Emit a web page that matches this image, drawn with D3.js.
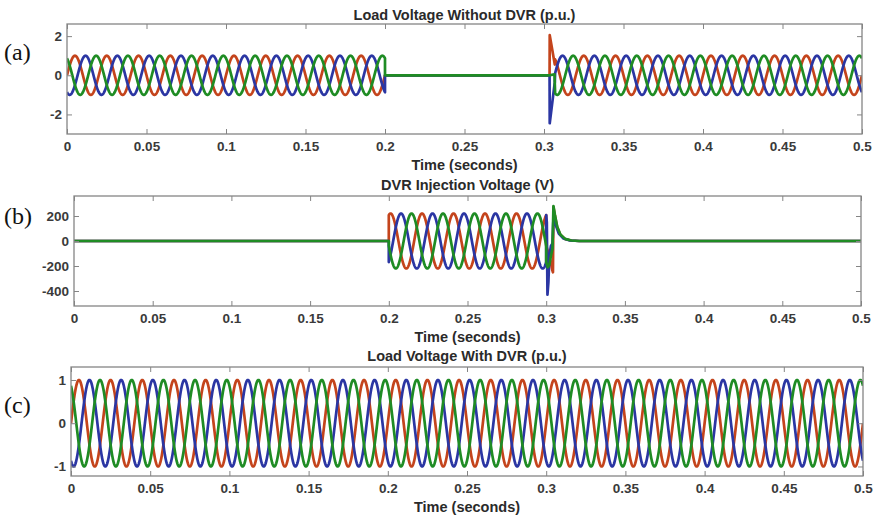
<!DOCTYPE html>
<html>
<head>
<meta charset="utf-8">
<script src="https://cdn.jsdelivr.net/npm/d3@7"></script>
<style>
  html, body { margin: 0; padding: 0; background: #fff; }
  svg { display: block; }
  .tick text { font-family: "Liberation Sans", Arial, sans-serif; font-weight: bold; font-size: 13.5px; fill: #3a3a3a; }
  .ttl { font-family: "Liberation Sans", Arial, sans-serif; font-weight: bold; font-size: 14.5px; fill: #2a2a2a; }
  .lbl { font-family: "Liberation Serif", "Times New Roman", serif; font-size: 24px; fill: #111; }
</style>
</head>
<body>
<svg id="chart" width="877" height="516"></svg>
<script>
// ---------------- data ----------------
const phaseNames = ["A", "B", "C"];              // drawn in this order (C on top)
const phaseAnglesDeg = [0, -120, 120];           // A, B, C
const systemFreqHz = 50;
const timeTicks = [0, 0.05, 0.1, 0.15, 0.2, 0.25, 0.3, 0.35, 0.4, 0.45, 0.5];

// (a) load voltage without DVR: [start, end, amplitude p.u.]
const loadNoDvrSegments = [[0, 0.2, 1], [0.2, 0.3035, 0], [0.307, 0.5, 1]];
const loadNoDvrTransient = [ // [t, value] per phase during voltage recovery
  [[0.3035, 0], [0.3036, 2.05], [0.3068, 0.55]],
  [[0.3035, 0], [0.3036, -2.45], [0.3068, -0.35]],
  [[0.3035, 0], [0.3066, 0.05]]
];
const loadNoDvrYTicks = [-2, 0, 2];

// (b) DVR injection voltage (V)
const injectionAmplitude = 220;
const injectionPhaseShiftDeg = 70;
const injectionSegments = [[0, 0.2, 0], [0.2, 0.3, injectionAmplitude], [0.321, 0.5, 0]];
const injectionTransient = [
  [[0.3, -38], [0.302, -120], [0.3038, -230], [0.3043, -250], [0.3046, 272], [0.3055, 205], [0.307, 110], [0.309, 50], [0.312, 16], [0.316, 4], [0.321, 0]],
  [[0.3, 207], [0.3004, 150], [0.3008, -430], [0.3014, -330], [0.302, -120], [0.303, -40], [0.304, -20], [0.3045, 150], [0.3052, 195], [0.306, 130], [0.308, 60], [0.311, 20], [0.315, 4], [0.321, 0]],
  [[0.3, -170], [0.301, -210], [0.302, -190], [0.303, -120], [0.304, -60], [0.3046, 280], [0.3055, 212], [0.307, 113], [0.309, 52], [0.312, 17], [0.316, 4], [0.321, 0]]
];
const injectionYTicks = [-400, -200, 0, 200];

// (c) load voltage with DVR
const loadDvrSegments = [[0, 0.5, 1]];
const loadDvrYTicks = [-1, 0, 1];

// ---------------- styles / layout ----------------
const phaseColors = ["#c4441c", "#2b36a3", "#1f8c24"];
const svg = d3.select("#chart");

const panels = [
  { letter: "(a)", title: "Load Voltage Without DVR (p.u.)", left: 67, right: 862, top: 24, bottom: 134,
    yDomain: [-3, 2.62], yTicks: loadNoDvrYTicks, segments: loadNoDvrSegments, shift: 0, transient: loadNoDvrTransient,
    letterY: 60, titleY: 19.5 },
  { letter: "(b)", title: "DVR Injection Voltage (V)", left: 74, right: 861, top: 196, bottom: 306,
    yDomain: [-520, 360], yTicks: injectionYTicks, segments: injectionSegments, shift: injectionPhaseShiftDeg, transient: injectionTransient,
    letterY: 224, titleY: 190 },
  { letter: "(c)", title: "Load Voltage With DVR (p.u.)", left: 71, right: 863, top: 367, bottom: 476,
    yDomain: [-1.22, 1.3], yTicks: loadDvrYTicks, segments: loadDvrSegments, shift: 0, transient: null,
    letterY: 413, titleY: 361 }
];

const fmt = d => String(+d.toFixed(2));
const dt = 0.0001;

function buildSeries(p, k) {
  const pts = [];
  const phi = (phaseAnglesDeg[k] + p.shift) * Math.PI / 180;
  const w = 2 * Math.PI * systemFreqHz;
  p.segments.forEach((seg, si) => {
    const [t0, t1, amp] = seg;
    const n = Math.round((t1 - t0) / dt);
    for (let i = 0; i <= n; i++) {
      const t = t0 + (t1 - t0) * i / n;
      pts.push([t, amp * Math.sin(w * t + phi)]);
    }
    if (p.transient && si === p.segments.length - 2) {
      p.transient[k].forEach(q => pts.push(q));
    }
  });
  pts.sort((a, b) => a[0] - b[0]);
  return pts;
}

panels.forEach((p, pi) => {
  const x = d3.scaleLinear().domain([0, 0.5]).range([p.left, p.right]);
  const y = d3.scaleLinear().domain(p.yDomain).range([p.bottom, p.top]);
  const g = svg.append("g");

  const clipId = "clip" + pi;
  svg.append("clipPath").attr("id", clipId).append("rect")
    .attr("x", p.left).attr("y", p.top).attr("width", p.right - p.left).attr("height", p.bottom - p.top);

  // waveforms
  const line = d3.line().x(d => x(d[0])).y(d => y(d[1]));
  const wg = g.append("g").attr("clip-path", `url(#${clipId})`);
  phaseNames.forEach((name, k) => {
    wg.append("path").datum(buildSeries(p, k))
      .attr("fill", "none").attr("stroke", phaseColors[k])
      .attr("stroke-width", 2.7).attr("stroke-linejoin", "round")
      .attr("d", line);
  });

  // axes
  const axColor = "#858585";
  const xb = g.append("g").attr("transform", `translate(0,${p.bottom})`)
    .call(d3.axisBottom(x).tickValues(timeTicks).tickFormat(fmt).tickSizeInner(-5).tickSizeOuter(0).tickPadding(8));
  const xt = g.append("g").attr("transform", `translate(0,${p.top})`)
    .call(d3.axisTop(x).tickValues(timeTicks).tickFormat("").tickSizeInner(-5).tickSizeOuter(0));
  const yl = g.append("g").attr("transform", `translate(${p.left},0)`)
    .call(d3.axisLeft(y).tickValues(p.yTicks).tickFormat(d => String(d)).tickSizeInner(-5).tickSizeOuter(0).tickPadding(5));
  const yr = g.append("g").attr("transform", `translate(${p.right},0)`)
    .call(d3.axisRight(y).tickValues(p.yTicks).tickFormat("").tickSizeInner(-5).tickSizeOuter(0));
  [xb, xt, yl, yr].forEach(a => {
    a.select(".domain").remove();
    a.selectAll(".tick line").attr("stroke", axColor).attr("stroke-width", 1);
  });
  xb.selectAll(".tick text").attr("dy", "0.7em");

  g.append("rect").attr("x", p.left).attr("y", p.top)
    .attr("width", p.right - p.left).attr("height", p.bottom - p.top)
    .attr("fill", "none").attr("stroke", axColor).attr("stroke-width", 1.3);

  // texts
  const cx = (p.left + p.right) / 2;
  g.append("text").attr("class", "ttl").attr("x", cx).attr("y", p.titleY)
    .attr("text-anchor", "middle").text(p.title);
  g.append("text").attr("class", "ttl").attr("x", cx).attr("y", p.bottom + 36)
    .attr("text-anchor", "middle").text("Time (seconds)");
  g.append("text").attr("class", "lbl").attr("x", 4).attr("y", p.letterY).text(p.letter);
});
</script>
</body>
</html>
